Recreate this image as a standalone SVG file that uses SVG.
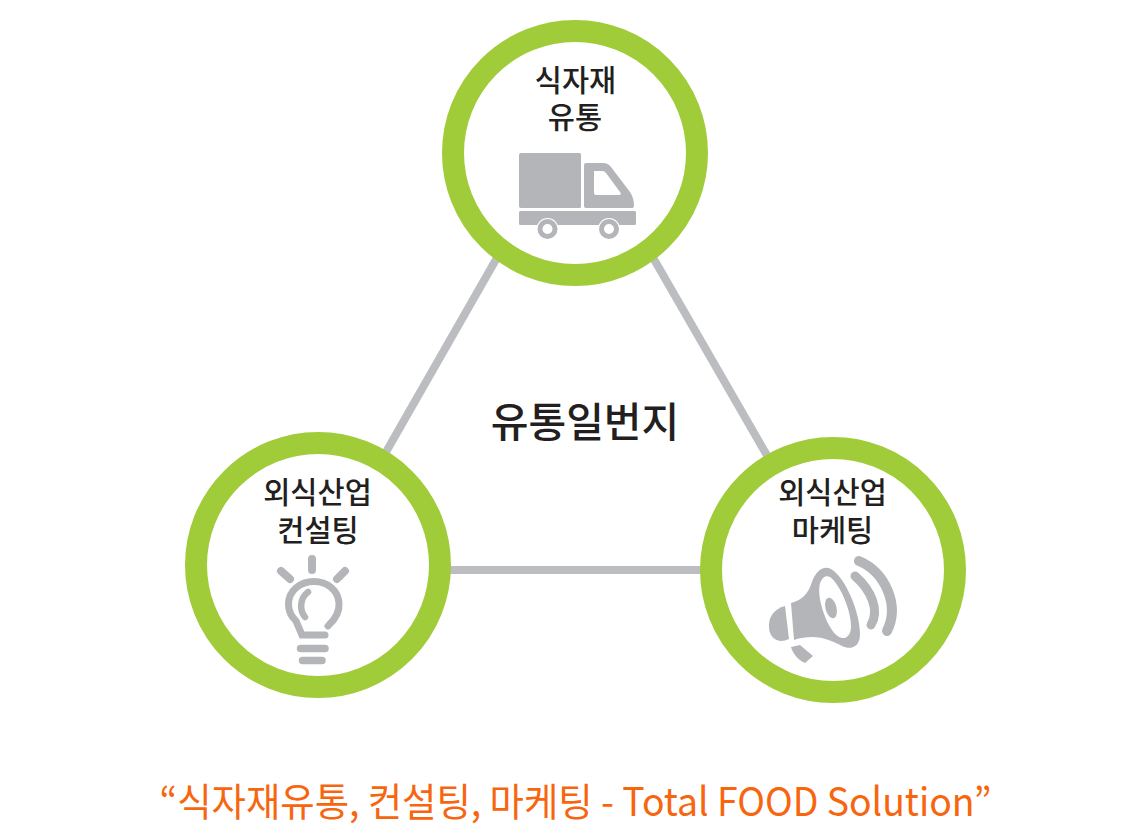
<svg xmlns="http://www.w3.org/2000/svg" width="1148" height="835" viewBox="0 0 1148 835">
<style>
text{font-family:"Noto Sans CJK KR","Noto Sans",sans-serif;text-anchor:middle;fill:#231f20}
.l{font-size:29.500px;font-weight:500}
.ring{fill:#fff;stroke:#a0cc3a;stroke-width:22}
.ic{fill:#b3b5b8}
.st{fill:none;stroke:#b3b5b8;stroke-linecap:round}
.conn{stroke:#bcbdc0;stroke-width:8;fill:none}
</style>
<rect width="1148" height="835" fill="#fff"/>
<g id="connectors">
<line class="conn" x1="510" y1="235" x2="370" y2="480"/>
<line class="conn" x1="640" y1="235" x2="780" y2="478"/>
<line class="conn" x1="420" y1="570" x2="730" y2="570"/>
</g>
<g id="node-top">
<circle class="ring" cx="575" cy="153" r="122"/>
<text class="l" x="575.500" y="91">식자재</text>
<text class="l" x="575" y="128">유통</text>
<path class="ic" d="M519 155Q519 153 521 153H580Q581 153 581 155V206Q581 208 580 208H521Q519 208 519 206Z"/>
<path class="ic" fill-rule="evenodd" d="M584 165Q584 163 586 163H603Q608 163 611 167L630 192Q634 198 634 206Q634 208 632 208H586Q584 208 584 206ZM594 171V193Q594 195 596 195H619Q622 195 620 192L606 173Q605 171 602 171Z"/>
<rect class="ic" x="519" y="211" width="117" height="14" rx="1.500"/>
<circle cx="547.500" cy="229" r="11" fill="#fff"/><circle cx="609" cy="229" r="11" fill="#fff"/>
<circle cx="547.500" cy="229" r="7.500" fill="none" stroke="#b3b5b8" stroke-width="5"/>
<circle cx="609" cy="229" r="7.500" fill="none" stroke="#b3b5b8" stroke-width="5"/>
</g>
<g id="node-left">
<circle class="ring" cx="318" cy="565" r="122"/>
<text class="l" x="317.500" y="503">외식산업</text>
<text class="l" x="318" y="541">컨설팅</text>
<path class="st" stroke-width="8" d="M312 559V570M281 571L290 579M345 571L337 579"/>
<path class="st" stroke-width="7" d="M328 626Q340 615 339 603C338 590 327 581.500 314 581.500C300 581.500 288.500 591 288.500 604Q288.500 614 296 621L302 635H325"/>
<path class="st" stroke-width="6.500" d="M308 592C300 598 299 610 305 617"/>
<path class="st" stroke-width="7.500" d="M300.500 648.500H325M302.500 660.500H322"/>
</g>
<g id="node-right">
<circle class="ring" cx="833" cy="570" r="122"/>
<text class="l" x="832.500" y="503">외식산업</text>
<text class="l" x="832.500" y="541">마케팅</text>
<path class="ic" fill-rule="evenodd" d="M791 603C802 600 808 594 812 582C816 570 824 565 831 569C846 578 860 613 860 634C860 648 850 650 842 646C830 640 816 633 794 640ZM821 581C816 590 822 615 832 630C840 642 850 640 851 628C852 612 840 584 830 577C826 575 823 577 821 581Z"/>
<ellipse class="ic" cx="831" cy="608" rx="5.500" ry="10.500" transform="rotate(-15 831 608)"/>
<path class="ic" d="M785 606L789 639C779 644 770 639 769 628C768 617 774 609 785 606Z"/>
<path class="ic" d="M791 647L800 645L813 656L805 663C798 660 793 654 791 647Z"/>
<path class="st" stroke-width="9" d="M855 576C871 590 880 610 871 625"/>
<path class="st" stroke-width="10" d="M859 561C885 572 900 605 887 631"/>
</g>
<g id="center"><text x="585" y="437" font-size="41" font-weight="500">유통일번지</text></g>
<g id="caption"><text x="575.500" y="816" font-size="39" style="fill:#f7660f" textLength="832" lengthAdjust="spacingAndGlyphs">“식자재유통, 컨설팅, 마케팅 - Total FOOD Solution”</text></g>
</svg>
